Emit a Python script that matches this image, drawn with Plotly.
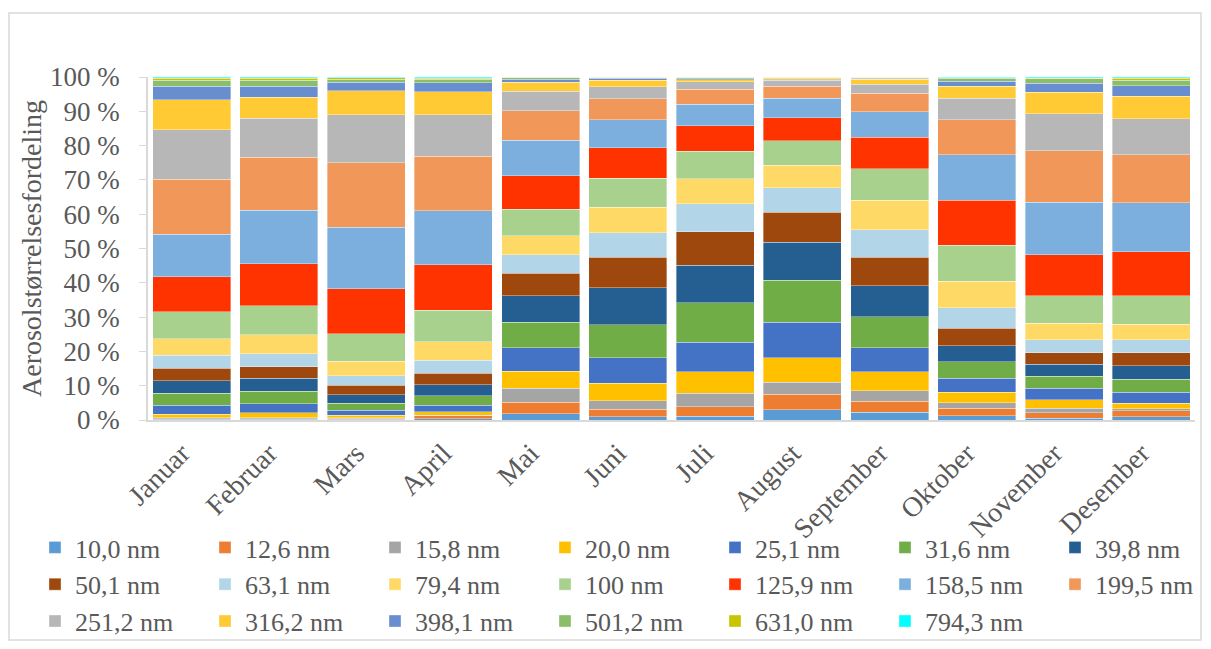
import plotly.graph_objects as go

months = ["Januar", "Februar", "Mars", "April", "Mai", "Juni", "Juli",
          "August", "September", "Oktober", "November", "Desember"]

size_labels = ["10,0 nm", "12,6 nm", "15,8 nm", "20,0 nm", "25,1 nm", "31,6 nm",
               "39,8 nm", "50,1 nm", "63,1 nm", "79,4 nm", "100 nm", "125,9 nm",
               "158,5 nm", "199,5 nm", "251,2 nm", "316,2 nm", "398,1 nm",
               "501,2 nm", "631,0 nm", "794,3 nm"]

# share (%) per size bin, one list per month (order as size_labels)
jan = [0.15, 0.25, 0.27, 1.03, 2.6, 3.5, 3.7, 3.55, 3.85, 4.85, 7.85, 10.1, 12.5, 16.0, 14.45, 8.7, 3.95, 1.8, 0.6, 0.3]
feb = [0.15, 0.25, 0.25, 1.45, 2.69, 3.62, 3.71, 3.42, 3.81, 5.48, 8.5, 12.22, 15.64, 15.45, 11.34, 6.06, 3.26, 1.8, 0.5, 0.4]
mar = [0.2, 0.25, 0.2, 0.73, 1.45, 2.06, 2.54, 2.64, 2.83, 4.2, 8.1, 13.1, 17.9, 18.8, 14.05, 6.95, 2.5, 0.9, 0.35, 0.25]
apr = [0.3, 0.87, 0.23, 1.0, 1.9, 2.74, 3.32, 3.33, 3.81, 5.37, 9.19, 13.3, 15.64, 16.03, 12.02, 6.75, 2.6, 1.0, 0.4, 0.3]
mai = [1.76, 3.42, 4.01, 5.08, 6.75, 7.43, 7.82, 6.45, 5.47, 5.57, 7.73, 9.77, 10.36, 8.6, 5.58, 2.73, 0.87, 0.35, 0.15, 0.1]
jun = [0.98, 2.15, 2.54, 4.98, 7.43, 9.68, 10.85, 8.9, 7.13, 7.43, 8.41, 8.89, 8.12, 6.16, 3.52, 1.85, 0.68, 0.15, 0.1, 0.05]
jul = [1.08, 2.83, 3.91, 6.26, 8.6, 11.44, 11.04, 9.78, 8.11, 7.33, 8.02, 7.33, 6.35, 4.3, 2.22, 0.55, 0.35, 0.3, 0.1, 0.1]
aug = [3.03, 4.5, 3.42, 7.13, 10.46, 12.22, 11.05, 8.8, 7.03, 6.65, 7.14, 6.64, 5.67, 3.56, 1.7, 0.5, 0.2, 0.15, 0.1, 0.05]
sep = [2.25, 3.22, 3.13, 5.48, 7.03, 9.0, 8.99, 8.41, 8.01, 8.61, 9.18, 9.09, 7.43, 5.37, 2.7, 1.4, 0.35, 0.2, 0.1, 0.05]
okt = [1.17, 2.25, 1.66, 3.03, 4.11, 4.79, 4.59, 5.09, 6.06, 7.72, 10.46, 13.1, 13.29, 10.27, 6.25, 3.46, 1.5, 0.8, 0.15, 0.25]
nov = [0.49, 1.66, 1.27, 2.45, 3.32, 3.61, 3.52, 3.33, 3.71, 4.89, 8.02, 11.92, 15.25, 15.05, 10.86, 6.25, 2.65, 1.25, 0.2, 0.3]
des = [0.98, 1.76, 0.58, 1.57, 3.13, 3.91, 3.91, 3.71, 3.81, 4.5, 8.41, 12.8, 14.27, 13.98, 10.56, 6.55, 2.97, 1.7, 0.6, 0.3]

colors = ["#5B9BD5", "#ED7D31", "#A5A5A5", "#FFC000", "#4472C4", "#70AD47",
          "#255E91", "#9E480E", "#B2D6E8", "#FFD965", "#A9D18E", "#FF3300",
          "#7CAFDD", "#F1975A", "#B7B7B7", "#FFCA33", "#698ED0", "#8CBD68",
          "#C8C400", "#00FFFF"]

by_month = [jan, feb, mar, apr, mai, jun, jul, aug, sep, okt, nov, des]

FONT = "Liberation Serif, Times New Roman, serif"
GREY = "#595959"

fig = go.Figure()
for i, label in enumerate(size_labels):
    fig.add_trace(
        go.Bar(
            x=months,
            y=[m[i] for m in by_month],
            name=label,
            marker=dict(color=colors[i], line=dict(color="rgba(255,255,255,0.6)", width=0.6)),
        )
    )

# page body has an 8px margin, so the figure is 8px smaller than the window
W, H = 1195, 633
L, R, T, B = 140, 8, 69, 221
pw, ph = W - L - R, H - T - B
bottom = H - B  # plot bottom in figure pixels


def px_x(p):
    return (p - L) / pw


def px_y(p):
    return (bottom - p) / ph


fig.update_layout(
    width=W,
    height=H,
    barmode="stack",
    barnorm="percent",
    bargap=0.106,
    plot_bgcolor="white",
    paper_bgcolor="white",
    margin=dict(l=L, r=R, t=T, b=B, autoexpand=False),
    font=dict(family=FONT, size=28, color=GREY),
    showlegend=True,
    legend=dict(
        orientation="h",
        x=px_x(27),
        xanchor="left",
        y=px_y(516),
        yanchor="top",
        bgcolor="rgba(0,0,0,0)",
        font=dict(family=FONT, size=26, color=GREY),
        entrywidth=125,
        itemwidth=30,
        tracegroupgap=0,
        traceorder="normal",
    ),
    shapes=[
        dict(
            type="rect", xref="paper", yref="paper",
            x0=px_x(1), x1=px_x(1193),
            y0=px_y(632), y1=px_y(5),
            line=dict(color="#D9D9D9", width=1.5),
            fillcolor="rgba(0,0,0,0)", layer="below",
        )
    ],
)

fig.update_xaxes(
    tickangle=-45,
    showline=True,
    linecolor="#D9D9D9",
    linewidth=1.5,
    ticks="",
    ticklabelshift=-10,
    ticklabelstandoff=4,
    tickfont=dict(family=FONT, size=28, color=GREY),
)

fig.update_yaxes(
    range=[0, 100],
    tickvals=[0, 10, 20, 30, 40, 50, 60, 70, 80, 90, 100],
    ticktext=["0 %", "10 %", "20 %", "30 %", "40 %", "50 %",
              "60 %", "70 %", "80 %", "90 %", "100 %"],
    showgrid=False,
    zeroline=False,
    showline=True,
    linecolor="#D9D9D9",
    linewidth=1.5,
    ticks="outside",
    ticklen=7,
    tickcolor="#D9D9D9",
    ticklabelstandoff=14,
    tickfont=dict(family=FONT, size=27, color=GREY),
    title=dict(text="Aerosolstørrelsesfordeling", font=dict(family=FONT, size=28, color=GREY), standoff=0),
)

fig.write_html("out.html")
